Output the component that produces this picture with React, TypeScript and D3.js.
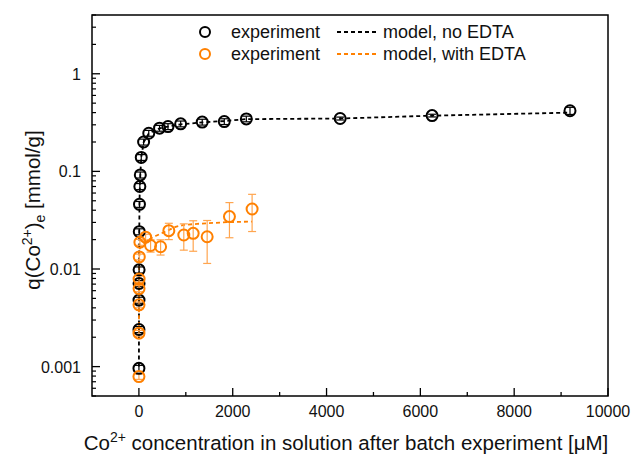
import React from "react";
import * as d3 from "d3";

// ---------- data ----------
const blackX = [0.5, 1, 2, 3, 4, 8, 12, 20, 30, 50, 100, 210, 440, 620, 890, 1350, 1820, 2290, 4290, 6250, 9190];
const blackY = [0.00096, 0.0024, 0.0048, 0.0071, 0.0098, 0.0241, 0.046, 0.070, 0.092, 0.139, 0.200, 0.246, 0.277, 0.288, 0.307, 0.320, 0.324, 0.345, 0.348, 0.373, 0.418];
const blackErr = [0.00007, 0.00017, 0.00034, 0.0005, 0.0007, 0.0017, 0.0032, 0.005, 0.0065, 0.0095, 0.014, 0.017, 0.019, 0.02, 0.021, 0.022, 0.022, 0.023, 0.012, 0.012, 0.035];

const orangeX = [0.5, 1, 2, 3, 4, 8, 21, 143, 249, 462, 638, 957, 1157, 1455, 1930, 2413];
const orangeY = [0.00079, 0.0022, 0.0043, 0.0063, 0.0079, 0.0133, 0.0188, 0.0212, 0.0174, 0.0169, 0.0247, 0.0223, 0.0232, 0.0214, 0.0344, 0.0412];
const orangeErr = [0.00005, 0.00015, 0.0003, 0.00045, 0.00055, 0.0009, 0.0013, 0.0015, 0.0025, 0.003, 0.0047, 0.0067, 0.008, 0.01, 0.0135, 0.017];

const modelNoX = [0.5, 1, 2, 3, 4, 8, 12, 20, 30, 50, 100, 210, 440, 620, 890, 1350, 1820, 2290, 4290, 6250, 9190];
const modelNoY = [0.001, 0.0024, 0.0048, 0.0071, 0.0098, 0.024, 0.046, 0.07, 0.092, 0.139, 0.198, 0.245, 0.276, 0.288, 0.303, 0.318, 0.328, 0.343, 0.348, 0.372, 0.40];

const modelWithX = [1, 2, 3, 4, 8, 21, 60, 143, 249, 355, 568, 781, 957, 1243, 1881, 2413];
const modelWithY = [0.0022, 0.0043, 0.0063, 0.0079, 0.0133, 0.0165, 0.0175, 0.019, 0.0205, 0.0218, 0.0242, 0.027, 0.0283, 0.029, 0.0302, 0.0306];

const xMajorTicks = [0, 2000, 4000, 6000, 8000, 10000];
const xMinorTicks = [1000, 3000, 5000, 7000, 9000];
const yMajorTicks = [0.001, 0.01, 0.1, 1];
const yTickLabels = ["0.001", "0.01", "0.1", "1"];

const BLACK = "#000000";
const ORANGE = "#ff8000";
const ORANGE_ERR = "#ffa54f";
const FONT = "'Liberation Sans', Arial, sans-serif";

const W = 634, H = 454;
const L = 92, R = 608, T = 15, B = 396;

export default function App() {
  const x = d3.scaleLinear().domain([-1000, 10000]).range([L, R]);
  const y = d3.scaleLog().domain([0.0005, 4]).range([B, T]);

  const yMinor: number[] = [];
  [0.0001, 0.001, 0.01, 0.1, 1].forEach((d) => {
    for (let k = 2; k <= 9; k++) {
      const v = d * k;
      if (v >= 0.0005 && v <= 4) yMinor.push(v);
    }
  });

  const line = d3
    .line<[number, number]>()
    .x((d) => x(d[0]))
    .y((d) => y(d[1]));

  const noPts = modelNoX.map((v, i) => [v, modelNoY[i]] as [number, number]);
  const withPts = modelWithX.map((v, i) => [v, modelWithY[i]] as [number, number]);

  const errBars = (xs: number[], ys: number[], es: number[], color: string, key: string) =>
    xs.map((xv, i) => {
      const cx = x(xv);
      const y1 = y(ys[i] + es[i]);
      const y0 = y(Math.max(ys[i] - es[i], 0.0001));
      return (
        <g key={key + i} stroke={color} strokeWidth={1.2}>
          <line x1={cx} x2={cx} y1={y1} y2={y0} />
          <line x1={cx - 4} x2={cx + 4} y1={y1} y2={y1} />
          <line x1={cx - 4} x2={cx + 4} y1={y0} y2={y0} />
        </g>
      );
    });

  const circles = (xs: number[], ys: number[], color: string, key: string) =>
    xs.map((xv, i) => (
      <circle key={key + i} cx={x(xv)} cy={y(ys[i])} r={5.5} fill="none" stroke={color} strokeWidth={2} />
    ));

  return (
    <svg width={W} height={H} style={{ position: "absolute", left: 0, top: 0, background: "#fff" }} fontFamily={FONT}>
      <rect x={0} y={0} width={W} height={H} fill="#fff" />

      {/* model lines */}
      <path d={line(noPts) || ""} fill="none" stroke={BLACK} strokeWidth={1.8} strokeDasharray="4,3" />
      <path d={line(withPts) || ""} fill="none" stroke={ORANGE} strokeWidth={1.8} strokeDasharray="4,3" />

      {/* error bars */}
      {errBars(blackX, blackY, blackErr, BLACK, "be")}
      {errBars(orangeX, orangeY, orangeErr, ORANGE_ERR, "oe")}

      {/* points */}
      {circles(blackX, blackY, BLACK, "bc")}
      {circles(orangeX, orangeY, ORANGE, "oc")}

      {/* frame */}
      <rect x={L} y={T} width={R - L} height={B - T} fill="none" stroke="#000" strokeWidth={1.5} />

      {/* x ticks */}
      {xMajorTicks.map((t) => (
        <g key={"xm" + t}>
          <line x1={x(t)} x2={x(t)} y1={B} y2={B - 8} stroke="#000" strokeWidth={1.3} />
          <text x={x(t)} y={B + 21} fontSize={16} textAnchor="middle" fill="#111">
            {t}
          </text>
        </g>
      ))}
      {xMinorTicks.map((t) => (
        <line key={"xn" + t} x1={x(t)} x2={x(t)} y1={B} y2={B - 4} stroke="#000" strokeWidth={1.3} />
      ))}

      {/* y ticks */}
      {yMajorTicks.map((t, i) => (
        <g key={"ym" + t}>
          <line x1={L} x2={L + 8} y1={y(t)} y2={y(t)} stroke="#000" strokeWidth={1.3} />
          <text x={81} y={y(t) + 6} fontSize={16} textAnchor="end" fill="#111">
            {yTickLabels[i]}
          </text>
        </g>
      ))}
      {yMinor.map((t) => (
        <line key={"yn" + t} x1={L} x2={L + 4} y1={y(t)} y2={y(t)} stroke="#000" strokeWidth={1.2} />
      ))}

      {/* legend */}
      <circle cx={205} cy={32} r={5} fill="none" stroke={BLACK} strokeWidth={2} />
      <text x={231} y={38} fontSize={18} fill="#111">experiment</text>
      <line x1={337} x2={377} y1={32} y2={32} stroke={BLACK} strokeWidth={1.8} strokeDasharray="4,3" />
      <text x={383} y={38} fontSize={18} fill="#111">model, no EDTA</text>

      <circle cx={205} cy={54} r={5} fill="none" stroke={ORANGE} strokeWidth={2} />
      <text x={231} y={60} fontSize={18} fill="#111">experiment</text>
      <line x1={337} x2={377} y1={54} y2={54} stroke={ORANGE} strokeWidth={1.8} strokeDasharray="4,3" />
      <text x={383} y={60} fontSize={18} fill="#111">model, with EDTA</text>

      {/* axis titles */}
      <text x={346} y={450} fontSize={20.5} textAnchor="middle" fill="#111">
        Co<tspan dy={-8} fontSize={14}>2+</tspan>
        <tspan dy={8}> concentration in solution after batch experiment [μM]</tspan>
      </text>
      <text transform="translate(40,210) rotate(-90)" fontSize={20.5} textAnchor="middle" fill="#111">
        q(Co<tspan dy={-8} fontSize={14}>2+</tspan>
        <tspan dy={8}>)</tspan>
        <tspan dy={5} fontSize={14}>e</tspan>
        <tspan dy={-5}> [mmol/g]</tspan>
      </text>
    </svg>
  );
}
